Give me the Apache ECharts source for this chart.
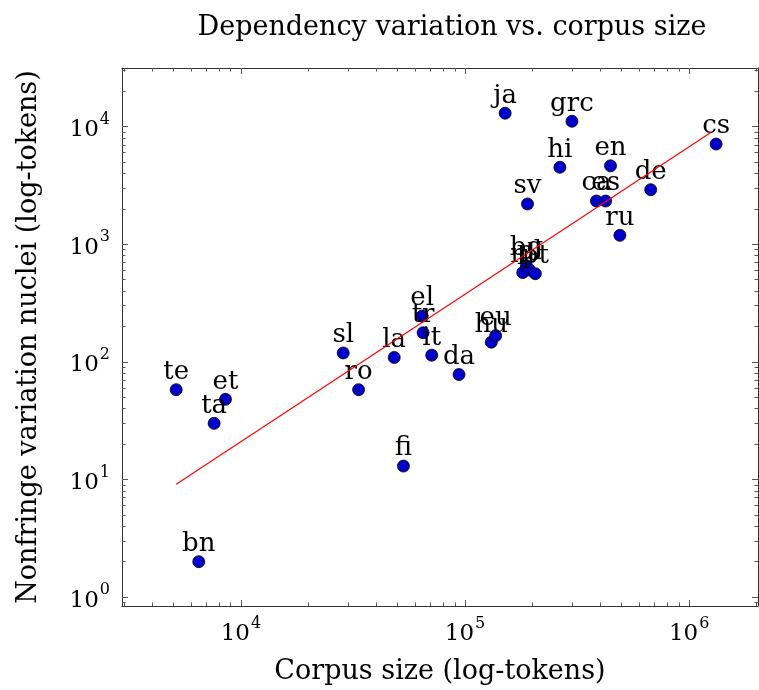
<!DOCTYPE html>
<html>
<head>
<meta charset="utf-8">
<script src="https://cdn.jsdelivr.net/npm/echarts@6/dist/echarts.min.js"></script>
<style>
  html, body { margin: 0; padding: 0; background: #fff; }
  #chart { width: 759px; height: 690px; }
</style>
</head>
<body>
<div id="chart"></div>
<script>
// language codes, corpus size (tokens) and nonfringe variation nuclei
const langs = ['te', 'et', 'ta', 'bn', 'sl', 'ro', 'la', 'fi', 'el', 'tr', 'it', 'da', 'hu', 'eu',
  'ja', 'grc', 'hi', 'en', 'sv', 'ca', 'es', 'de', 'ru', 'cs', 'nl', 'bg', 'pl', 'pt']
const corpusSize = [5140, 8530, 7590, 6480, 28600, 33500, 48300, 53100, 64400, 65000, 71000, 94000, 131000, 137000,
  151000, 300000, 265000, 446000, 190000, 386000, 424000, 674000, 491000, 1320000, 181000, 188000, 194000, 206000]
const nuclei = [58, 48, 30, 2, 119, 58, 109, 13, 245, 177, 114, 78, 147, 167,
  13000, 11100, 4510, 4640, 2200, 2330, 2330, 2910, 1190, 7110, 574, 655, 603, 562]

// regression line end points
const fitX = [5140, 1250000]
const fitY = [9.1, 8900]

// tick values
const xMajor = [1e4, 1e5, 1e6]
const xMinor = [3000, 4000, 5000, 6000, 7000, 8000, 9000,
  20000, 30000, 40000, 50000, 60000, 70000, 80000, 90000,
  200000, 300000, 400000, 500000, 600000, 700000, 800000, 900000, 2000000]
const yMajor = [1, 10, 100, 1000, 10000]
const yMinor = [0.9, 2, 3, 4, 5, 6, 7, 8, 9, 20, 30, 40, 50, 60, 70, 80, 90,
  200, 300, 400, 500, 600, 700, 800, 900, 2000, 3000, 4000, 5000, 6000, 7000, 8000, 9000, 20000, 30000]

const xMin = 2945
const xMax = 2030000
const yMin = 0.84
const yMax = 31500

const FONT = 'DejaVu Serif'
const lineCol = '#333'

function powLabel (v) {
  return '{b|10}{s|' + Math.round(Math.log10(v)) + '}'
}
const powRich = {
  b: { fontFamily: FONT, fontSize: 23, color: '#000', lineHeight: 30, verticalAlign: 'bottom' },
  s: { fontFamily: FONT, fontSize: 16, color: '#000', lineHeight: 30, verticalAlign: 'top', padding: [0, 0, 0, 1] }
}

function makeAxis (pos, isX, major, showLine, showLabel) {
  let ax = {
    type: 'log',
    position: pos,
    min: isX ? xMin : yMin,
    max: isX ? xMax : yMax,
    splitLine: { show: false },
    axisLine: { show: showLine, lineStyle: { color: lineCol, width: 1 } },
    axisTick: {
      show: true,
      inside: true,
      length: major ? 6 : 3.5,
      customValues: major ? (isX ? xMajor : yMajor) : (isX ? xMinor : yMinor),
      lineStyle: { color: '#555', width: 1 }
    },
    axisLabel: { show: false }
  }
  if (showLabel) {
    ax.axisLabel = {
      show: true,
      customValues: isX ? xMajor : yMajor,
      formatter: powLabel,
      rich: powRich,
      margin: isX ? 10 : 12
    }
  }
  return ax
}

let xAxes = [
  makeAxis('bottom', true, true, true, true),
  makeAxis('bottom', true, false, false, false),
  makeAxis('top', true, true, true, false),
  makeAxis('top', true, false, false, false)
]
xAxes[0].name = 'Corpus size (log-tokens)'
xAxes[0].nameLocation = 'middle'
xAxes[0].nameGap = 52
xAxes[0].nameTextStyle = { fontFamily: FONT, fontSize: 27, color: '#000' }

let yAxes = [
  makeAxis('left', false, true, true, true),
  makeAxis('left', false, false, false, false),
  makeAxis('right', false, true, true, false),
  makeAxis('right', false, false, false, false)
]
yAxes[0].name = 'Nonfringe variation nuclei (log-tokens)'
yAxes[0].nameLocation = 'middle'
yAxes[0].nameRotate = 90
yAxes[0].nameGap = 80
yAxes[0].nameTextStyle = { fontFamily: FONT, fontSize: 27, color: '#000' }

let points = langs.map(function (l, i) {
  return { name: l, value: [corpusSize[i], nuclei[i]] }
})

let chart = echarts.init(document.getElementById('chart'))
chart.setOption({
  animation: false,
  title: {
    text: 'Dependency variation vs. corpus size',
    left: 447,
    textAlign: 'center',
    top: 9,
    textStyle: { fontFamily: FONT, fontSize: 27, fontWeight: 'normal', color: '#000' }
  },
  grid: { left: 122, right: 1, top: 68, bottom: 80 },
  xAxis: xAxes,
  yAxis: yAxes,
  series: [
    {
      name: 'languages',
      type: 'scatter',
      symbolSize: 12,
      itemStyle: { color: '#0000cc', borderColor: '#000', borderWidth: 0.8, opacity: 1 },
      label: {
        show: true,
        position: 'top',
        distance: 0,
        formatter: '{b}',
        fontFamily: FONT,
        fontSize: 26,
        lineHeight: 22,
        color: '#000'
      },
      data: points
    },
    {
      name: 'fit',
      type: 'line',
      symbol: 'none',
      z: 5,
      lineStyle: { color: '#ff0000', width: 1.2 },
      data: fitX.map(function (x, i) { return [x, fitY[i]] })
    }
  ]
})
</script>
</body>
</html>
